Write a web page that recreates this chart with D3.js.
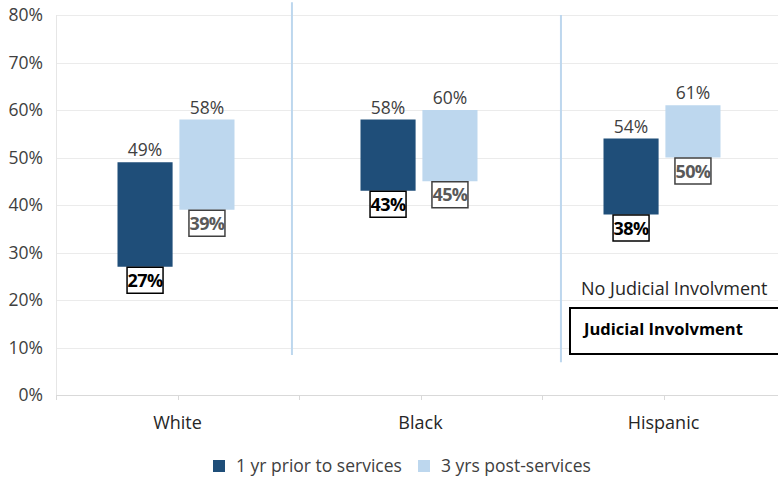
<!DOCTYPE html>
<html>
<head>
<meta charset="utf-8">
<script src="https://cdn.jsdelivr.net/npm/d3@7"></script>
<style>
  body { margin: 0; background: #fff; }
  svg { display: block; font-family: "Open Sans", sans-serif; }
</style>
</head>
<body>
<div id="chart"></div>
<script>
// data
var categories = ['White', 'Black', 'Hispanic'];
var seriesNames = ['1 yr prior to services', '3 yrs post-services'];
var priorLow = [0.27, 0.43, 0.38];
var priorHigh = [0.49, 0.58, 0.54];
var postLow = [0.39, 0.45, 0.50];
var postHigh = [0.58, 0.60, 0.61];
var yTicks = [0, 0.1, 0.2, 0.3, 0.4, 0.5, 0.6, 0.7, 0.8];
// separators, in category units (0..3) and y range
var separators = [
  {pos: 0.971, top: 0.827, bottom: 0.084},
  {pos: 2.078, top: 0.80, bottom: 0.069}
];

var colors = ['#1F4E79', '#BDD7EE'];
var fullWidth = 778, fullHeight = 480;
var margin = {top: 15, right: -7, bottom: 85, left: 56};
var width = fullWidth - margin.left - margin.right;
var height = fullHeight - margin.top - margin.bottom;

var svg = d3.select('#chart').append('svg')
  .attr('width', fullWidth)
  .attr('height', fullHeight);

var g = svg.append('g')
  .attr('transform', 'translate(' + margin.left + ',' + margin.top + ')');

var x = d3.scaleBand().domain(categories).range([0, width]);
var xIdx = d3.scaleLinear().domain([0, 3]).range([0, width]);
var bw = x.bandwidth();
var inner = d3.scaleBand().domain([0, 1])
  .range([bw / 2 - 60, bw / 2 + 57]).paddingInner(0.11);
var y = d3.scaleLinear().domain([0, 0.8]).range([height, 0]);

// gridlines
g.append('g').selectAll('line').data(yTicks.slice(1)).enter().append('line')
  .attr('x1', 0).attr('x2', width)
  .attr('y1', function(d) { return Math.round(y(d)) + 0.5; })
  .attr('y2', function(d) { return Math.round(y(d)) + 0.5; })
  .attr('stroke', '#ebebeb').attr('stroke-width', 1);

// y axis labels
g.append('g').selectAll('text').data(yTicks).enter().append('text')
  .attr('x', -13)
  .attr('y', function(d) { return y(d); })
  .attr('dy', '0.35em')
  .attr('text-anchor', 'end')
  .style('font-size', '17.5px')
  .style('fill', '#404040')
  .text(d3.format('.0%'));

// left axis line
g.append('line').attr('x1', 0.5).attr('x2', 0.5).attr('y1', 0).attr('y2', height)
  .attr('stroke', '#e6e6e6');

// x axis
var xAxis = g.append('g').attr('transform', 'translate(0,' + height + ')');
xAxis.append('line').attr('x1', 0).attr('x2', width).attr('y1', 0.5).attr('y2', 0.5)
  .attr('stroke', '#d9d9d9');
var tickPos = d3.range(0, 3.01, 0.5);
xAxis.selectAll('line.tick').data(tickPos).enter().append('line')
  .attr('class', 'tick')
  .attr('x1', function(d) { return Math.round(xIdx(d)) + 0.5; })
  .attr('x2', function(d) { return Math.round(xIdx(d)) + 0.5; })
  .attr('y1', 0).attr('y2', 5)
  .attr('stroke', '#d9d9d9');
xAxis.selectAll('text').data(categories).enter().append('text')
  .attr('x', function(d) { return x(d) + bw / 2; })
  .attr('y', 34)
  .attr('text-anchor', 'middle')
  .style('font-size', '18px')
  .style('fill', '#262626')
  .text(function(d) { return d; });

// separators
g.append('g').selectAll('line').data(separators).enter().append('line')
  .attr('x1', function(d) { return xIdx(d.pos); })
  .attr('x2', function(d) { return xIdx(d.pos); })
  .attr('y1', function(d) { return y(d.top); })
  .attr('y2', function(d) { return y(d.bottom); })
  .attr('stroke', '#BDD7EE').attr('stroke-width', 2);

// floating bars
var series = [
  {low: priorLow, high: priorHigh},
  {low: postLow, high: postHigh}
];
var pct = d3.format('.0%');
series.forEach(function(s, si) {
  var data = categories.map(function(c, i) { return {cat: c, low: s.low[i], high: s.high[i]}; });
  var grp = g.append('g');
  grp.selectAll('rect.bar').data(data).enter().append('rect')
    .attr('class', 'bar')
    .attr('x', function(d) { return x(d.cat) + inner(si); })
    .attr('width', inner.bandwidth())
    .attr('y', function(d) { return y(d.high); })
    .attr('height', function(d) { return y(d.low) - y(d.high); })
    .attr('fill', colors[si]);
  // top labels
  grp.selectAll('text.hi').data(data).enter().append('text')
    .attr('class', 'hi')
    .attr('x', function(d) { return x(d.cat) + inner(si) + inner.bandwidth() / 2; })
    .attr('y', function(d) { return y(d.high) - 6; })
    .attr('text-anchor', 'middle')
    .style('font-size', '17.5px')
    .style('fill', '#404040')
    .text(function(d) { return pct(d.high); });
  // bottom boxed labels
  var box = grp.selectAll('g.lo').data(data).enter().append('g')
    .attr('class', 'lo')
    .attr('transform', function(d) {
      return 'translate(' + (x(d.cat) + inner(si) + inner.bandwidth() / 2) + ',' + y(d.low) + ')';
    });
  box.append('rect')
    .attr('x', -18).attr('y', 0.5).attr('width', 36).attr('height', 26)
    .attr('fill', '#fff')
    .attr('stroke', si === 0 ? '#000' : '#404040').attr('stroke-width', 1.5);
  box.append('text')
    .attr('y', 20)
    .attr('text-anchor', 'middle')
    .style('font-size', '18px')
    .style('font-weight', 'bold')
    .style('letter-spacing', '-0.6px')
    .style('fill', si === 0 ? '#000' : '#595959')
    .text(function(d) { return pct(d.low); });
});

// annotations
svg.append('text')
  .attr('x', 581).attr('y', 295)
  .style('font-size', '18px').style('fill', '#262626')
  .text('No Judicial Involvment');
svg.append('rect')
  .attr('x', 570).attr('y', 308).attr('width', 220).attr('height', 46)
  .attr('fill', '#fff').attr('stroke', '#000').attr('stroke-width', 2);
svg.append('text')
  .attr('x', 584).attr('y', 335)
  .style('font-size', '16.5px').style('font-weight', 'bold').style('fill', '#000')
  .text('Judicial Involvment');

// legend
var legendX = [213, 418];
var legend = svg.append('g').selectAll('g').data(seriesNames).enter().append('g')
  .attr('transform', function(d, i) { return 'translate(' + legendX[i] + ',460)'; });
legend.append('rect').attr('width', 12).attr('height', 12)
  .attr('fill', function(d, i) { return colors[i]; });
legend.append('text')
  .attr('x', 23).attr('y', 6).attr('dy', '0.35em')
  .style('font-size', '17.5px').style('fill', '#404040')
  .text(function(d) { return d; });
</script>
</body>
</html>
